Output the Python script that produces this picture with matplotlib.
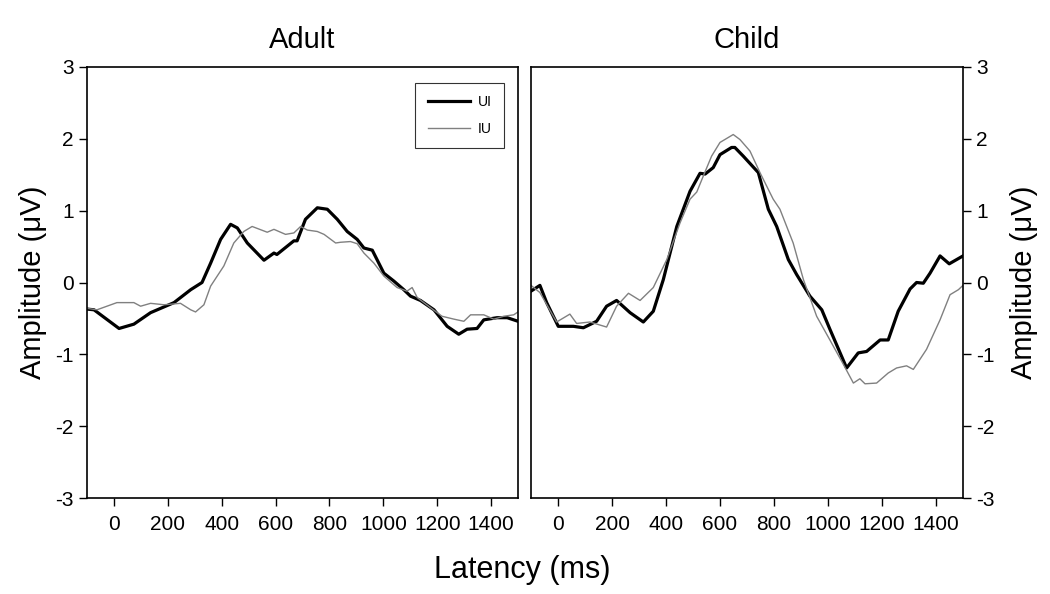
import matplotlib
matplotlib.use("Agg")
import matplotlib.pyplot as plt

plt.rcParams['font.family'] = ['Liberation Sans', 'DejaVu Sans']
plt.rcParams['axes.unicode_minus'] = False

# Adult panel
adult_ui_t = [-100, -74, 19, 74, 136, 223, 285, 327, 359, 396, 433, 458, 495, 557, 594, 605,
              668, 680, 711, 755, 792, 829, 866, 903, 928, 959, 1002, 1039, 1076, 1101, 1138,
              1188, 1237, 1280, 1311, 1348, 1373, 1422, 1460, 1500]
adult_ui_v = [-0.37, -0.38, -0.64, -0.58, -0.42, -0.28, -0.10, 0.0, 0.27, 0.60, 0.81, 0.76, 0.55,
              0.31, 0.41, 0.39, 0.58, 0.58, 0.88, 1.04, 1.02, 0.88, 0.71, 0.60, 0.48, 0.45, 0.13,
              0.02, -0.10, -0.19, -0.25, -0.38, -0.61, -0.72, -0.65, -0.64, -0.52, -0.49, -0.49,
              -0.54]
adult_iu_t = [-100, -63, -26, 11, 74, 99, 136, 186, 247, 285, 303, 334, 359, 408, 445, 482, 513,
              569, 594, 637, 668, 693, 718, 755, 780, 823, 841, 878, 903, 928, 965, 1002, 1051,
              1088, 1107, 1126, 1175, 1218, 1262, 1299, 1324, 1373, 1410, 1447, 1484, 1500]
adult_iu_v = [-0.36, -0.38, -0.33, -0.28, -0.28, -0.33, -0.29, -0.31, -0.29, -0.38, -0.41, -0.31,
              -0.05, 0.23, 0.55, 0.71, 0.78, 0.70, 0.74, 0.67, 0.69, 0.78, 0.73, 0.71, 0.67, 0.55,
              0.56, 0.57, 0.54, 0.41, 0.27, 0.09, -0.07, -0.12, -0.07, -0.21, -0.35, -0.47, -0.51,
              -0.54, -0.45, -0.45, -0.51, -0.47, -0.45, -0.41]

# Child panel
child_ui_t = [-100, -67, -42, 1, 57, 94, 143, 180, 217, 267, 316, 353, 390, 440, 489, 526, 545,
              575, 600, 643, 655, 686, 742, 779, 810, 853, 884, 933, 977, 1007, 1069, 1112, 1143,
              1193, 1223, 1260, 1304, 1328, 1353, 1378, 1415, 1449, 1500]
child_ui_v = [-0.12, -0.04, -0.28, -0.61, -0.61, -0.63, -0.54, -0.33, -0.25, -0.42, -0.55, -0.40,
              0.04, 0.78, 1.27, 1.52, 1.51, 1.60, 1.78, 1.88, 1.88, 1.76, 1.53, 1.02, 0.78, 0.32,
              0.11, -0.19, -0.38, -0.65, -1.19, -0.98, -0.96, -0.80, -0.80, -0.40, -0.09, 0.00,
              -0.01, 0.13, 0.37, 0.26, 0.37]
child_iu_t = [-100, -67, -5, 44, 69, 118, 180, 217, 261, 304, 353, 403, 452, 489, 514, 539, 569,
              600, 649, 674, 711, 748, 797, 822, 871, 909, 958, 1007, 1057, 1094, 1118, 1137, 1180,
              1223, 1254, 1291, 1316, 1365, 1415, 1452, 1483, 1500]
child_iu_v = [-0.04, -0.14, -0.55, -0.44, -0.57, -0.55, -0.62, -0.33, -0.15, -0.25, -0.07, 0.32,
              0.83, 1.16, 1.26, 1.49, 1.76, 1.95, 2.06, 1.99, 1.83, 1.53, 1.16, 1.02, 0.55, 0.04,
              -0.47, -0.80, -1.14, -1.40, -1.34, -1.41, -1.40, -1.26, -1.19, -1.16, -1.21, -0.93,
              -0.52, -0.17, -0.10, -0.04]

x_ticks = [0, 200, 400, 600, 800, 1000, 1200, 1400]
y_ticks = [-3, -2, -1, 0, 1, 2, 3]

fig = plt.figure(figsize=(10.5, 5.94), dpi=100)
ax1 = fig.add_axes([87/1050, 1-498/594, 431/1050, 431/594])
ax2 = fig.add_axes([531/1050, 1-498/594, 432/1050, 431/594])

panels = [
    (ax1, "Adult", adult_ui_t, adult_ui_v, adult_iu_t, adult_iu_v, 'left'),
    (ax2, "Child", child_ui_t, child_ui_v, child_iu_t, child_iu_v, 'right'),
]

for ax, title, ut, uv, it, iv, side in panels:
    ax.plot(ut, uv, color='black', lw=2.3, label='UI')
    ax.plot(it, iv, color='#808080', lw=1.0, label='IU')
    ax.set_xlim(-100, 1500)
    ax.set_ylim(-3, 3)
    ax.set_xticks(x_ticks)
    ax.set_yticks(y_ticks)
    ax.set_title(title, fontsize=21, pad=14)
    ax.tick_params(direction='out', length=6, width=1, labelsize=15)
    ax.tick_params(axis='x', pad=6)
    if side == 'right':
        ax.yaxis.tick_right()
        ax.yaxis.set_label_position('right')
        ax.set_ylabel("Amplitude (μV)", fontsize=21, labelpad=11)
    else:
        ax.set_ylabel("Amplitude (μV)", fontsize=21, labelpad=6)
    for sp in ax.spines.values():
        sp.set_linewidth(1.2)

leg = ax1.legend(loc='upper right', bbox_to_anchor=(0.975, 0.97), fontsize=10,
                 fancybox=False, edgecolor='black', handlelength=3.0,
                 borderpad=0.9, labelspacing=0.9, handletextpad=0.6, borderaxespad=0.2)
leg.get_frame().set_linewidth(0.8)

fig.text(522/1050, 1-570/594, "Latency (ms)", fontsize=22, ha='center', va='center')

fig.savefig("out.png", dpi=100)
